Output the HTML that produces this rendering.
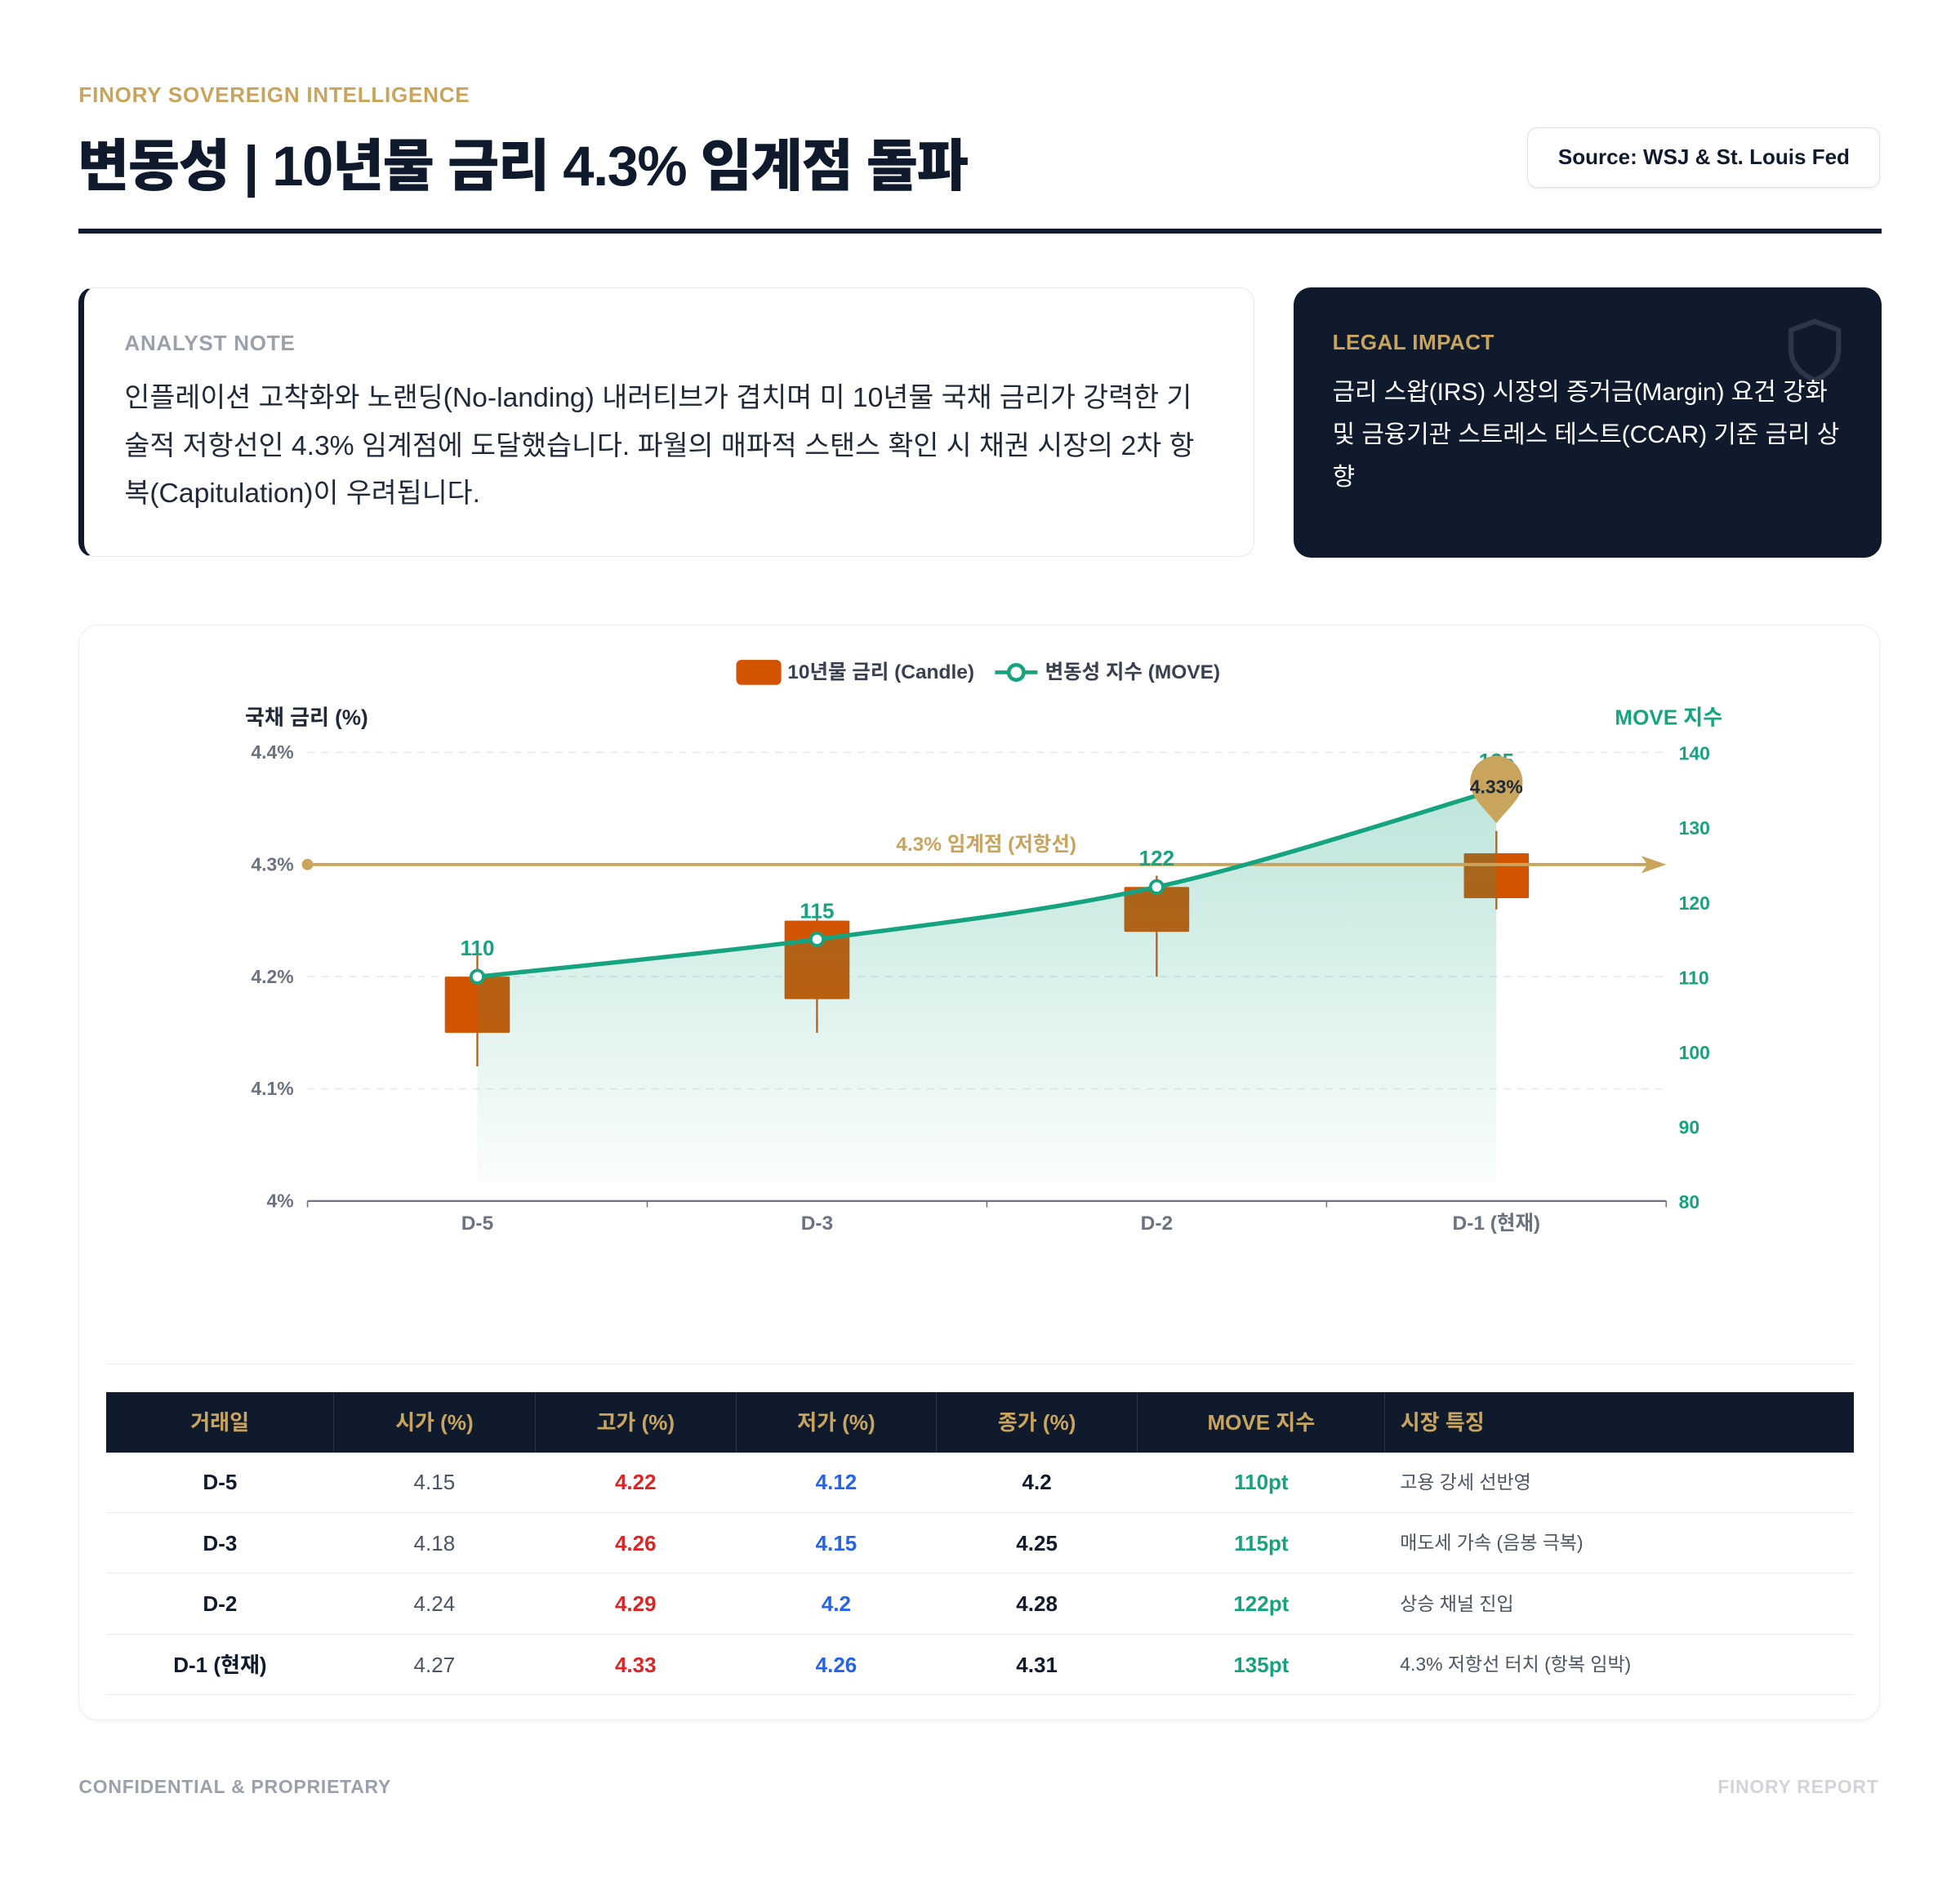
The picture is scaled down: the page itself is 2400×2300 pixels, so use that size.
<!DOCTYPE html>
<html><head><meta charset="utf-8">
<style>
html,body{margin:0;padding:0;background:#fff;}
body{width:1568px;height:1503px;zoom:1.5306;position:relative;overflow:hidden;font-family:"Liberation Sans","Noto Sans CJK KR",sans-serif;color:#0f1b2d;}
.abs{position:absolute;}
.kicker{left:63px;top:66px;font-size:17px;font-weight:bold;color:#c9a45c;letter-spacing:0.5px;}
.title{left:62px;top:96px;font-size:45px;font-weight:900;letter-spacing:-1px;}
.src{left:1222px;top:102px;width:281px;height:47px;border:1px solid #dcdfe4;border-radius:8px;font-size:17px;font-weight:bold;line-height:47px;text-align:center;box-shadow:0 1px 3px rgba(0,0,0,0.06);}
.rule{left:63px;top:183px;width:1442px;height:4px;background:#0f1b2d;}
.note{left:63px;top:230px;width:935px;height:214px;border:1px solid #e6e8ec;border-left:5px solid #0f1b2d;border-radius:12px;}
.note .lbl{position:absolute;left:32px;top:34px;font-size:17px;font-weight:bold;color:#9aa1ab;letter-spacing:0.5px;}
.note .txt{position:absolute;left:32px;top:69px;width:868px;font-size:22px;line-height:38.5px;color:#1f2937;}
.legal{left:1035px;top:230px;width:470px;height:216px;background:#0f1b2d;border-radius:14px;}
.legal .lbl{position:absolute;left:31px;top:34px;font-size:17px;font-weight:bold;color:#c9a45c;letter-spacing:0.3px;}
.legal .txt{position:absolute;left:31px;top:67px;width:408px;font-size:19.5px;line-height:34px;color:#fff;}
.card{left:63px;top:500px;width:1440px;height:875px;border:1px solid #eceef1;border-radius:16px;box-shadow:0 1px 4px rgba(0,0,0,0.04);}
table{position:absolute;left:85px;top:1114px;width:1398px;border-collapse:collapse;font-size:17px;}
th{background:#0f1b2d;color:#c9a45c;height:48px;padding:0;font-weight:bold;border-right:1px solid #2a3546;line-height:1;}
th:last-child{border-right:none;text-align:left;padding-left:12px;}
td{height:48px;padding:0;line-height:1;text-align:center;border-bottom:1px solid #e8eaee;}
td:last-child{text-align:left;padding-left:12px;font-size:15px;color:#4b5563;}
.b{font-weight:bold;}
.r{color:#dc2626;font-weight:bold;}.bl{color:#2563eb;font-weight:bold;}.g{color:#16a37f;font-weight:bold;}.gr{color:#4b5563;}
.foot{top:1421px;font-size:15px;font-weight:bold;letter-spacing:0.5px;}
</style></head>
<body>
<div class="abs kicker">FINORY SOVEREIGN INTELLIGENCE</div>
<div class="abs title">변동성 | 10년물 금리 4.3% 임계점 돌파</div>
<div class="abs src">Source: WSJ &amp; St. Louis Fed</div>
<div class="abs rule"></div>
<div class="abs note">
 <div class="lbl">ANALYST NOTE</div>
 <div class="txt">인플레이션 고착화와 노랜딩(No-landing) 내러티브가 겹치며 미 10년물 국채 금리가 강력한 기술적 저항선인 4.3% 임계점에 도달했습니다. 파월의 매파적 스탠스 확인 시 채권 시장의 2차 항복(Capitulation)이 우려됩니다.</div>
</div>
<div class="abs legal">
 <div class="lbl">LEGAL IMPACT</div>
 <svg style="position:absolute;left:394px;top:24px" width="46" height="54"><path d="M23 3 L42 10 V26 C42 38 33 46 23 50 C13 46 4 38 4 26 V10 Z" fill="none" stroke="#2d3748" stroke-width="4"/></svg>
 <div class="txt">금리 스왑(IRS) 시장의 증거금(Margin) 요건 강화 및 금융기관 스트레스 테스트(CCAR) 기준 금리 상향</div>
</div>
<div class="abs card"></div>
<svg id="chart" class="abs" style="left:0;top:0" width="1568" height="1100"></svg>
<div class="abs" style="left:85px;top:1091px;width:1398px;height:1px;background:#eceef1"></div>
<table>
<colgroup><col style="width:182px"><col style="width:161px"><col style="width:161px"><col style="width:160px"><col style="width:161px"><col style="width:198px"><col></colgroup>
<tr><th>거래일</th><th>시가 (%)</th><th>고가 (%)</th><th>저가 (%)</th><th>종가 (%)</th><th>MOVE 지수</th><th>시장 특징</th></tr>
<tr><td class="b">D-5</td><td class="gr">4.15</td><td class="r">4.22</td><td class="bl">4.12</td><td class="b">4.2</td><td class="g">110pt</td><td>고용 강세 선반영</td></tr>
<tr><td class="b">D-3</td><td class="gr">4.18</td><td class="r">4.26</td><td class="bl">4.15</td><td class="b">4.25</td><td class="g">115pt</td><td>매도세 가속 (음봉 극복)</td></tr>
<tr><td class="b">D-2</td><td class="gr">4.24</td><td class="r">4.29</td><td class="bl">4.2</td><td class="b">4.28</td><td class="g">122pt</td><td>상승 채널 진입</td></tr>
<tr><td class="b">D-1 (현재)</td><td class="gr">4.27</td><td class="r">4.33</td><td class="bl">4.26</td><td class="b">4.31</td><td class="g">135pt</td><td>4.3% 저항선 터치 (항복 임박)</td></tr>
</table>
<div class="abs foot" style="left:63px;color:#9aa1ab">CONFIDENTIAL &amp; PROPRIETARY</div>
<div class="abs foot" style="right:65px;color:#d1d5db">FINORY REPORT</div>
<script>
const categories=["D-5","D-3","D-2","D-1 (현재)"];
const opens=[4.15,4.18,4.24,4.27];
const highs=[4.22,4.26,4.29,4.33];
const lows=[4.12,4.15,4.2,4.26];
const closes=[4.2,4.25,4.28,4.31];
const moveVals=[110,115,122,135];
const leftTicks=[4.0,4.1,4.2,4.3,4.4];
const leftTickLabels=["4%","4.1%","4.2%","4.3%","4.4%"];
const rightTicks=[80,90,100,110,120,130,140];
const threshold=4.3;

const svg=document.getElementById('chart');
const NS='http://www.w3.org/2000/svg';
const X0=246,X1=1333,YT=602,YB=961;
const band=(X1-X0)/categories.length;
const xc=i=>X0+band*(i+0.5);
const yL=v=>YB-(v-4.0)/(0.4)*(YB-YT);
const yR=v=>YB-(v-80)/(60)*(YB-YT);
function mk(tag,attrs,name,text){const e=document.createElementNS(NS,tag);for(const k in attrs)e.setAttribute(k,attrs[k]);


if(text!==undefined)e.textContent=text;svg.appendChild(e);return e;}
const F='Liberation Sans, Noto Sans CJK KR, sans-serif';
const defs=document.createElementNS(NS,'defs');
defs.innerHTML='<linearGradient id="ag" x1="0" y1="0" x2="0" y2="1"><stop offset="0" stop-color="#16a37f" stop-opacity="0.28"/><stop offset="1" stop-color="#16a37f" stop-opacity="0.02"/></linearGradient>';
svg.appendChild(defs);
mk('rect',{x:589,y:528,width:36,height:20,rx:4,fill:'#d35400'},'legend-candle-swatch');
mk('text',{x:630,y:543,'font-size':16,'font-weight':'bold',fill:'#374151','font-family':F},'legend-candle-label','10년물 금리 (Candle)');
mk('line',{x1:796,y1:538,x2:830,y2:538,stroke:'#16a37f','stroke-width':3},'legend-move-line');
mk('circle',{cx:813,cy:538,r:6,fill:'#fff',stroke:'#16a37f','stroke-width':3},'legend-move-marker');
mk('text',{x:836,y:543,'font-size':16,'font-weight':'bold',fill:'#374151','font-family':F},'legend-move-label','변동성 지수 (MOVE)');
mk('text',{x:196,y:580,'font-size':17,'font-weight':'bold',fill:'#1f2937','font-family':F},'y-axis-left-title','국채 금리 (%)');
mk('text',{x:1378,y:580,'font-size':17,'font-weight':'bold',fill:'#16a37f','font-family':F,'text-anchor':'end'},'y-axis-right-title','MOVE 지수');
leftTicks.forEach((t,i)=>{
 if(t>4.0) mk('line',{x1:X0,x2:X1,y1:yL(t),y2:yL(t),stroke:'#e5e7eb','stroke-dasharray':'6 5'},'gridline');
 mk('text',{x:235,y:yL(t)+5,'font-size':15,'font-weight':'bold',fill:'#6b7280','text-anchor':'end','font-family':F},'y-left-tick',leftTickLabels[i]);
});
rightTicks.forEach(t=>mk('text',{x:1343,y:yR(t)+6,'font-size':15,'font-weight':'bold',fill:'#16a37f','font-family':F},'y-right-tick',String(t)));
mk('line',{x1:X0,x2:X1,y1:YB,y2:YB,stroke:'#6b7280','stroke-width':1.5},'x-axis-line');
for(let i=0;i<=categories.length;i++) mk('line',{x1:X0+band*i,x2:X0+band*i,y1:YB,y2:YB+5,stroke:'#6b7280'},'x-tick');
categories.forEach((c,i)=>mk('text',{x:xc(i),y:YB+23,'font-size':16,'font-weight':'bold',fill:'#6b7280','text-anchor':'middle','font-family':F},'x-tick-label',c));
categories.forEach((c,i)=>{
 const x=xc(i);
 mk('line',{x1:x,x2:x,y1:yL(highs[i]),y2:yL(lows[i]),stroke:'#c0581a','stroke-width':1.5},'candle-wick');
 const top=yL(Math.max(opens[i],closes[i])),bot=yL(Math.min(opens[i],closes[i]));
 mk('rect',{x:x-26,y:top,width:52,height:Math.max(1,bot-top),fill:'#d35400',rx:1},'candle-body');
});
const pts=moveVals.map((v,i)=>[xc(i),yR(v)]);
let d='M'+pts[0][0]+','+pts[0][1];
for(let i=0;i<pts.length-1;i++){
 const p0=pts[Math.max(0,i-1)],p1=pts[i],p2=pts[i+1],p3=pts[Math.min(pts.length-1,i+2)];
 const c1=[p1[0]+(p2[0]-p0[0])/6,p1[1]+(p2[1]-p0[1])/6],c2=[p2[0]-(p3[0]-p1[0])/6,p2[1]-(p3[1]-p1[1])/6];
 d+=` C${c1[0]},${c1[1]} ${c2[0]},${c2[1]} ${p2[0]},${p2[1]}`;
}
mk('path',{d:d+` L${pts[pts.length-1][0]},${YB-15} L${pts[0][0]},${YB-15} Z`,fill:'url(#ag)'},'move-area');
const ty=yL(threshold);
mk('line',{x1:X0,x2:X1-4,y1:ty,y2:ty,stroke:'#c9a45c','stroke-width':2.5},'threshold-line');
mk('circle',{cx:X0,cy:ty,r:4.5,fill:'#c9a45c'},'threshold-start-dot');
mk('path',{d:`M${X1-20},${ty-7} L${X1},${ty} L${X1-20},${ty+7} L${X1-15},${ty} Z`,fill:'#c9a45c'},'threshold-arrow');
mk('text',{x:789,y:ty-11,'font-size':16,'font-weight':'bold',fill:'#c9a45c','text-anchor':'middle','font-family':F},'threshold-label','4.3% 임계점 (저항선)');
mk('path',{d:d,fill:'none',stroke:'#16a37f','stroke-width':3.5},'move-line');
pts.forEach((p,i)=>{
 mk('circle',{cx:p[0],cy:p[1],r:5,fill:'#fff',stroke:'#16a37f','stroke-width':2.5},'move-point');
 mk('text',{x:p[0],y:p[1]-17,'font-size':17,'font-weight':'bold',fill:'#16a37f','text-anchor':'middle','font-family':F},'move-value-label',String(moveVals[i]));
});
const li=highs.length-1,px=xc(li),py=yL(highs[li])-33;
mk('path',{d:`M${px},${py+27} C${px-8},${py+16} ${px-21},${py+7} ${px-21},${py-6} A21,21 0 1 1 ${px+21},${py-6} C${px+21},${py+7} ${px+8},${py+16} ${px},${py+27} Z`,fill:'#c9a45c'},'high-pin');
mk('text',{x:px,y:py+3,'font-size':15,'font-weight':'bold',fill:'#1f2937','text-anchor':'middle','font-family':F},'high-pin-label',highs[li].toFixed(2)+'%');
</script>
</body></html>
